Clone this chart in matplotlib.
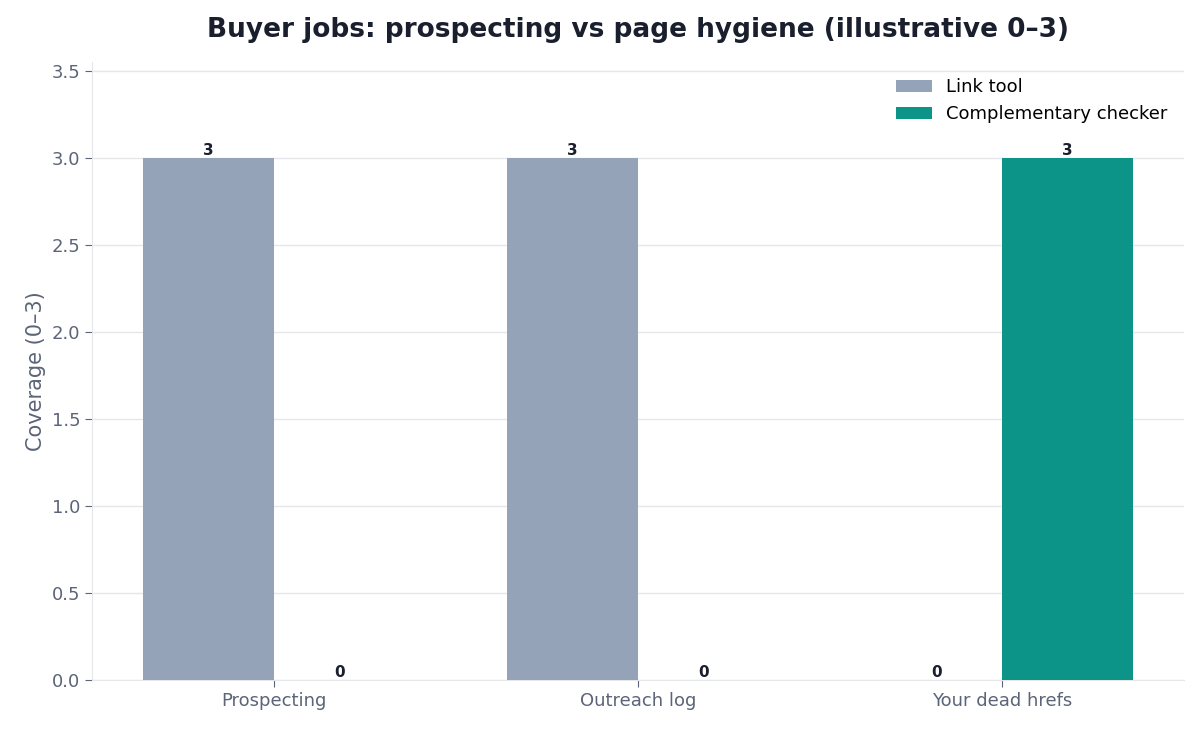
import matplotlib
matplotlib.use("Agg")
import matplotlib.pyplot as plt
import numpy as np

categories = ["Prospecting", "Outreach log", "Your dead hrefs"]
link_tool = [3, 3, 0]
checker = [0, 0, 3]

fig = plt.figure(figsize=(11.99, 7.31), dpi=100)
ax = fig.add_axes([92/1199, 1-680/731, (1184-92)/1199, (680-62)/731])
x = np.arange(len(categories))
w = 0.36
b1 = ax.bar(x - w/2, link_tool, w, color="#94A3B8", label="Link tool", zorder=3)
b2 = ax.bar(x + w/2, checker, w, color="#0D9488", label="Complementary checker", zorder=3)
for bars in (b1, b2):
    for r in bars:
        ax.text(r.get_x()+r.get_width()/2, r.get_height(), f"{int(r.get_height())}",
                ha="center", va="bottom", fontsize=11, fontweight="bold", color="#1a1f2e")
ax.set_xlim(-0.5, 2.5)
ax.set_ylim(0, 3.55)
ax.set_yticks(np.arange(0, 3.51, 0.5))
ax.set_xticks(x)
ax.set_xticklabels(categories)
ax.tick_params(colors="#5b6478", labelsize=13)
ax.tick_params(axis="x", length=5, color="#5b6478")
ax.tick_params(axis="y", length=5, color="#5b6478")
ax.grid(axis="y", color="#e5e7eb", linewidth=1, zorder=0)
for s in ["top", "right"]:
    ax.spines[s].set_visible(False)
for s in ["left", "bottom"]:
    ax.spines[s].set_color("#e5e7eb")
ax.set_ylabel("Coverage (0–3)", fontsize=15, color="#5b6478")
ax.set_title("Buyer jobs: prospecting vs page hygiene (illustrative 0–3)",
             fontsize=19, fontweight="bold", color="#1a1f2e", pad=18)
ax.legend(frameon=False, fontsize=13, loc="upper right")
fig.savefig("out.png", dpi=100)
